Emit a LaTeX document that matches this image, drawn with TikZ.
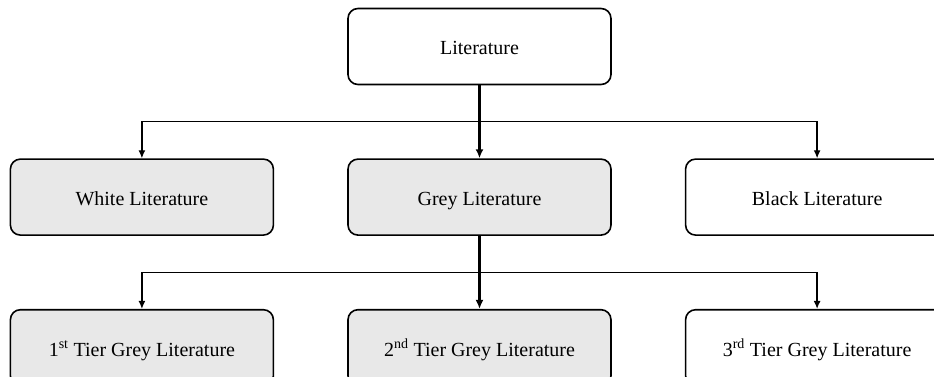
\documentclass[tikz,border=0pt]{standalone}
\usepackage{fontspec}
\setmainfont{Liberation Serif}
\usepackage{tikz}
\usetikzlibrary{arrows.meta,positioning,calc}
\definecolor{boxgrey}{HTML}{E8E8E8}
\tikzstyle{block} = [rectangle, draw, line width=1.6pt, fill=white, text centered,
    rounded corners=10pt, minimum width=263pt, minimum height=76pt,
    text height=20pt, text depth=3pt, font=\fontsize{20pt}{24pt}\selectfont]
\tikzstyle{trunk} = [draw, line width=2.4pt, -{Latex[length=9pt,width=8pt]}]
\tikzstyle{branch} = [draw, line width=1.3pt, -{Latex[length=8pt,width=7pt]}]

\begin{document}
\begin{tikzpicture}[node distance=73pt]
    \useasboundingbox (0,0) rectangle (934pt,-377pt);
    % Place nodes
    \node [block] (lit) at (479.5pt,-46.5pt) {Literature};
    \node [block, fill=boxgrey, below=of lit] (grey) {Grey Literature};
    \node [block, fill=boxgrey, left=of grey] (white) {White Literature};
    \node [block, right=of grey] (black) {Black Literature};
    \node [block, fill=boxgrey, below=of grey] (tier2) {2\textsuperscript{nd} Tier Grey Literature};
    \node [block, fill=boxgrey, left=of tier2] (tier1) {1\textsuperscript{st} Tier Grey Literature};
    \node [block, right=of tier2] (tier3) {3\textsuperscript{rd} Tier Grey Literature};
    \coordinate (fork1) at ($(lit.south)!0.5!(grey.north)$);
    \coordinate (fork2) at ($(grey.south)!0.5!(tier2.north)$);
    % Draw edges
    \path [branch] (fork1) -| (white);
    \path [branch] (fork1) -| (black);
    \path [trunk] (lit) -- (grey);
    \path [branch] (fork2) -| (tier1);
    \path [branch] (fork2) -| (tier3);
    \path [trunk] (grey) -- (tier2);

\end{tikzpicture}
\end{document}
